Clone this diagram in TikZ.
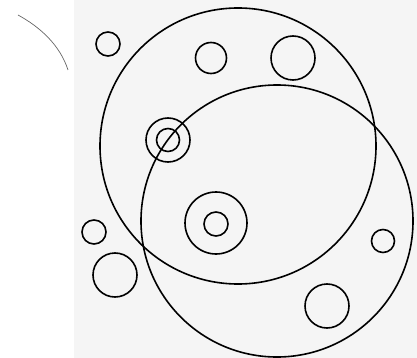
\documentclass[tikz,border=0pt]{standalone}
\begin{document}
\begin{tikzpicture}[x=1pt,y=-1pt,
  ring/.style={draw=black,line width=1.6pt},
  thinarc/.style={draw=black!60,line width=0.7pt}]
\useasboundingbox (0,0) rectangle (417,358);
\fill[black!4] (74,0) rectangle (417,358);
% large circles
\draw[ring] (238,146) circle[radius=138];
\draw[ring] (277,221) circle[radius=136];
% small circles
\draw[ring] (108,44) circle[radius=12];
\draw[ring] (211,58) circle[radius=15.5];
\draw[ring] (293,58) circle[radius=22];
\draw[ring] (168,140) circle[radius=22];
\draw[ring] (168,140) circle[radius=11.5];
\draw[ring] (216,223) circle[radius=31];
\draw[ring] (216,224) circle[radius=12];
\draw[ring] (383,241) circle[radius=11.5];
\draw[ring] (327,306) circle[radius=22];
\draw[ring] (94,232) circle[radius=12];
\draw[ring] (115,275) circle[radius=22];
% thin arc top left
\draw[thinarc] (18,15) .. controls (40,27) and (60,45) .. (68,70);
\end{tikzpicture}
\end{document}
